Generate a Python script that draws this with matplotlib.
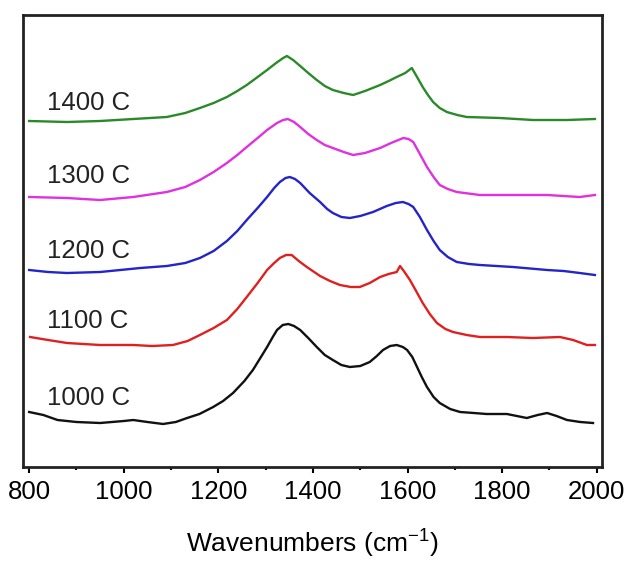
import matplotlib
matplotlib.use("Agg")
import matplotlib.pyplot as plt
from matplotlib.ticker import MultipleLocator

plt.rcParams['font.family'] = ['Liberation Sans', 'DejaVu Sans']
plt.rcParams['mathtext.fontset'] = 'custom'
plt.rcParams['mathtext.rm'] = 'Liberation Sans'
plt.rcParams['mathtext.it'] = 'Liberation Sans'

# ---- data (intensity in arbitrary units, offset stacked) ----
w_1000 = [800, 830, 860, 900, 950, 1000, 1020, 1050, 1083, 1110, 1134, 1160, 1189, 1210, 1231,
          1255, 1273, 1290, 1303, 1315, 1324, 1336, 1348, 1360, 1373, 1390, 1408, 1425, 1442,
          1460, 1478, 1500, 1520, 1535, 1548, 1563, 1577, 1590, 1599, 1610, 1620, 1630, 1641,
          1655, 1668, 1690, 1711, 1740, 1767, 1810, 1852, 1875, 1895, 1915, 1937, 1965, 1992]
i_1000 = [55, 52, 47, 45, 44, 46, 47, 45, 43, 45, 49, 53, 60, 66, 74,
          86, 97, 110, 120, 130, 137, 142, 143, 141, 137, 129, 120, 112, 107,
          102, 100, 101, 105, 111, 117, 121, 122, 120, 117, 110, 100, 90, 80,
          70, 64, 58, 55, 54, 53, 53, 49, 52, 54, 51, 47, 45, 44]

w_1100 = [802, 840, 880, 950, 1020, 1060, 1104, 1135, 1161, 1190, 1218, 1240, 1260, 1283,
          1303, 1318, 1330, 1343, 1355, 1370, 1387, 1415, 1436, 1457, 1480, 1499, 1520, 1542,
          1560, 1577, 1584, 1592, 1605, 1618, 1632, 1647, 1662, 1680, 1696, 1725, 1753, 1810,
          1865, 1922, 1950, 1979, 1996]
i_1100 = [130, 127, 124, 122, 122, 121, 122, 126, 132, 139, 147, 158, 170, 184,
          197, 204, 209, 212, 212, 206, 200, 191, 186, 182, 180, 180, 184, 190,
          193, 195, 201, 196, 187, 176, 164, 153, 144, 138, 135, 132, 130, 130,
          129, 130, 127, 122, 122]

w_1200 = [800, 840, 880, 950, 1035, 1091, 1130, 1161, 1190, 1218, 1240, 1260, 1283, 1303,
          1318, 1330, 1342, 1351, 1362, 1373, 1393, 1415, 1430, 1442, 1460, 1478, 1500, 1527,
          1556, 1575, 1590, 1602, 1612, 1626, 1641, 1655, 1668, 1685, 1704, 1730, 1753, 1823,
          1895, 1930, 1964, 1996]
i_1200 = [197, 195, 194, 195, 199, 201, 204, 209, 216, 226, 236, 247, 259, 270,
          279, 285, 289, 290, 288, 284, 274, 265, 258, 254, 250, 249, 251, 255,
          261, 264, 265, 263, 260, 250, 237, 226, 217, 210, 205, 203, 202, 200,
          197, 196, 194, 192]

w_1300 = [800, 880, 950, 1020, 1091, 1130, 1161, 1190, 1218, 1240, 1260, 1283, 1303, 1324,
          1337, 1347, 1360, 1373, 1390, 1408, 1425, 1442, 1465, 1485, 1510, 1542, 1565, 1591,
          1602, 1612, 1626, 1641, 1655, 1668, 1685, 1704, 1753, 1823, 1895, 1964, 1996]
i_1300 = [270, 269, 267, 270, 275, 280, 287, 295, 304, 312, 320, 329, 337, 344,
          347, 348, 345, 340, 333, 327, 322, 319, 315, 312, 314, 319, 324, 329,
          328, 325, 313, 300, 290, 282, 278, 275, 272, 272, 272, 270, 272]

w_1400 = [800, 880, 950, 1020, 1091, 1130, 1161, 1190, 1218, 1240, 1260, 1283, 1303, 1322,
          1337, 1345, 1358, 1373, 1390, 1408, 1425, 1442, 1465, 1485, 1510, 1542, 1560, 1577,
          1595, 1609, 1620, 1632, 1643, 1654, 1668, 1683, 1705, 1725, 1795, 1865, 1937, 1996]
i_1400 = [346, 345, 346, 348, 350, 354, 359, 364, 370, 376, 382, 390, 397, 404,
          409, 411, 407, 401, 394, 387, 381, 377, 374, 372, 376, 382, 386, 390,
          394, 399, 390, 380, 372, 365, 359, 355, 352, 350, 349, 347, 347, 348]

labels = ["1000 C", "1100 C", "1200 C", "1300 C", "1400 C"]
label_y = [62, 139, 209, 284, 357]
colors = ["#111111", "#e02020", "#2424c8", "#e030e0", "#2a8a2a"]
series = [(w_1000, i_1000), (w_1100, i_1100), (w_1200, i_1200), (w_1300, i_1300), (w_1400, i_1400)]

xticks = [800, 1000, 1200, 1400, 1600, 1800, 2000]

fig = plt.figure(figsize=(6.3, 5.64), dpi=100)
ax = fig.add_axes([23/630, 1-467/564, (602-23)/630, (467-15)/564])

for (w, i), c in zip(series, colors):
    ax.plot(w, i, color=c, lw=1.7, solid_joinstyle='round')

for lab, yy in zip(labels, label_y):
    ax.text(838, yy, lab, fontsize=18.5, color="#222222", ha="left", va="baseline")

ax.set_xlim(787, 2011)
ax.set_ylim(0, 452)
ax.set_xticks(xticks)
ax.set_xticklabels([str(t) for t in xticks])
ax.xaxis.set_minor_locator(MultipleLocator(100))
ax.set_yticks([])
ax.tick_params(axis='x', which='major', direction='out', length=4.5, width=1.5,
               labelsize=18.5, pad=5, top=False)
ax.tick_params(axis='x', which='minor', direction='out', length=2.5, width=1.5, top=False)
for s in ax.spines.values():
    s.set_linewidth(2.0)
    s.set_color("#222222")

ax.set_xlabel(r"Wavenumbers (cm$^{\mathregular{-1}}$)", fontsize=19, labelpad=17)

fig.savefig("out.png", dpi=100)
